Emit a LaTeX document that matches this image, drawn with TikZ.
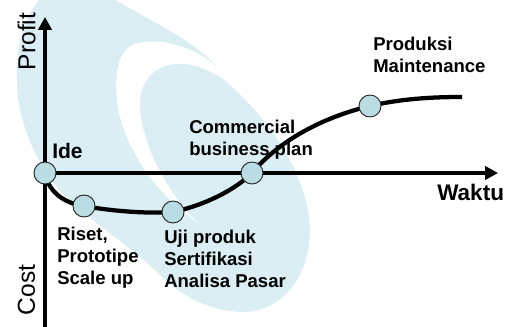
\documentclass[tikz,border=0pt]{standalone}
\usepackage{fontspec}
\setmainfont{Liberation Sans}
\usetikzlibrary{arrows.meta,backgrounds}
\definecolor{swoosh}{RGB}{219,238,243}
\definecolor{dotfill}{RGB}{186,221,228}
\begin{document}
\begin{tikzpicture}[x=0.75pt,y=-0.75pt,
  axis/.style={line width=3.6pt,-{Triangle[length=9.75pt,width=10pt]}},
  curveline/.style={line width=3.2pt},
  milestone/.style={circle,draw=black!85,line width=0.7pt,fill=dotfill,minimum size=16.5pt,inner sep=0pt},
  lbl/.style={font=\fontsize{13.9pt}{16.5pt}\selectfont\bfseries,align=left,inner sep=0pt,anchor=north west},
  biglbl/.style={inner sep=0pt,anchor=base west},
  axislbl/.style={font=\fontsize{18.4pt}{22pt}\selectfont,rotate=90,inner sep=0pt}]
\useasboundingbox (0,0) rectangle (509,327);
\clip (0,0) rectangle (509,327);

% milestones on the curve
\node[milestone] (ide)   at (45,173) {};
\node[milestone] (riset) at (84,206) {};
\node[milestone] (uji)   at (173,212) {};
\node[milestone] (comm)  at (252,173) {};
\node[milestone] (prod)  at (370,106) {};

% axis ends and curve end
\coordinate (ybot) at (45,330);
\coordinate (ytop) at (45,17);
\coordinate (xend) at (498,173);
\coordinate (cend) at (462,97);

\begin{pgfonlayer}{background}
  % light swoosh in the background
  \fill[swoosh] (17,85)
    .. controls (15,45) and (25,15) .. (42,-3)
    .. controls (70,-12) and (100,-10) .. (115,0)
    .. controls (150,20) and (195,42) .. (215,65)
    -- (222,78)
    .. controls (260,110) and (300,160) .. (309,215)
    .. controls (315,265) and (290,310) .. (245,312)
    .. controls (210,312) and (180,295) .. (160,275)
    .. controls (130,245) and (80,215) .. (55,185)
    .. controls (35,160) and (18,120) .. (17,85) -- cycle;
  % white band cutting through it
  \fill[white] (215,65)
    .. controls (195,48) and (160,36) .. (135,44)
    .. controls (118,50) and (114,75) .. (117,100)
    .. controls (121,140) and (150,190) .. (197,222)
    .. controls (165,190) and (140,140) .. (140,105)
    .. controls (140,80) and (155,62) .. (185,64)
    .. controls (200,66) and (212,72) .. (222,78) -- cycle;

  % axes
  \draw[axis] (ybot) -- (ytop);
  \draw[axis] (ide.center) -- (xend);

  % product life curve
  \draw[curveline] (ide.center)
    .. controls (48,190) and (62,203) .. (riset.center)
    .. controls (110,211) and (150,214) .. (uji.center)
    .. controls (205,205) and (235,190) .. (comm.center)
    .. controls (278,142) and (320,118) .. (prod.center)
    .. controls (400,99) and (430,97) .. (cend);
\end{pgfonlayer}

% axis labels
\node[axislbl] (profit) at (26.5,41.5) {Profit};
\node[axislbl] (cost)   at (26.5,290) {Cost};
\node[biglbl,font=\fontsize{16.9pt}{20pt}\selectfont\bfseries] (waktu) at (437,201) {Waktu};
\node[biglbl,font=\fontsize{15.8pt}{19pt}\selectfont\bfseries] (idelbl) at (52,159) {Ide};

% milestone labels
\node[lbl] (commlbl)  at (189,119.7) {Commercial\\business plan};
\node[lbl] (prodlbl)  at (373,36.7) {Produksi\\Maintenance};
\node[lbl] (riselbl)  at (57,226.7) {Riset,\\Prototipe\\Scale up};
\node[lbl] (ujilbl)   at (164,229.7) {Uji produk\\Sertifikasi\\Analisa Pasar};
\end{tikzpicture}
\end{document}
